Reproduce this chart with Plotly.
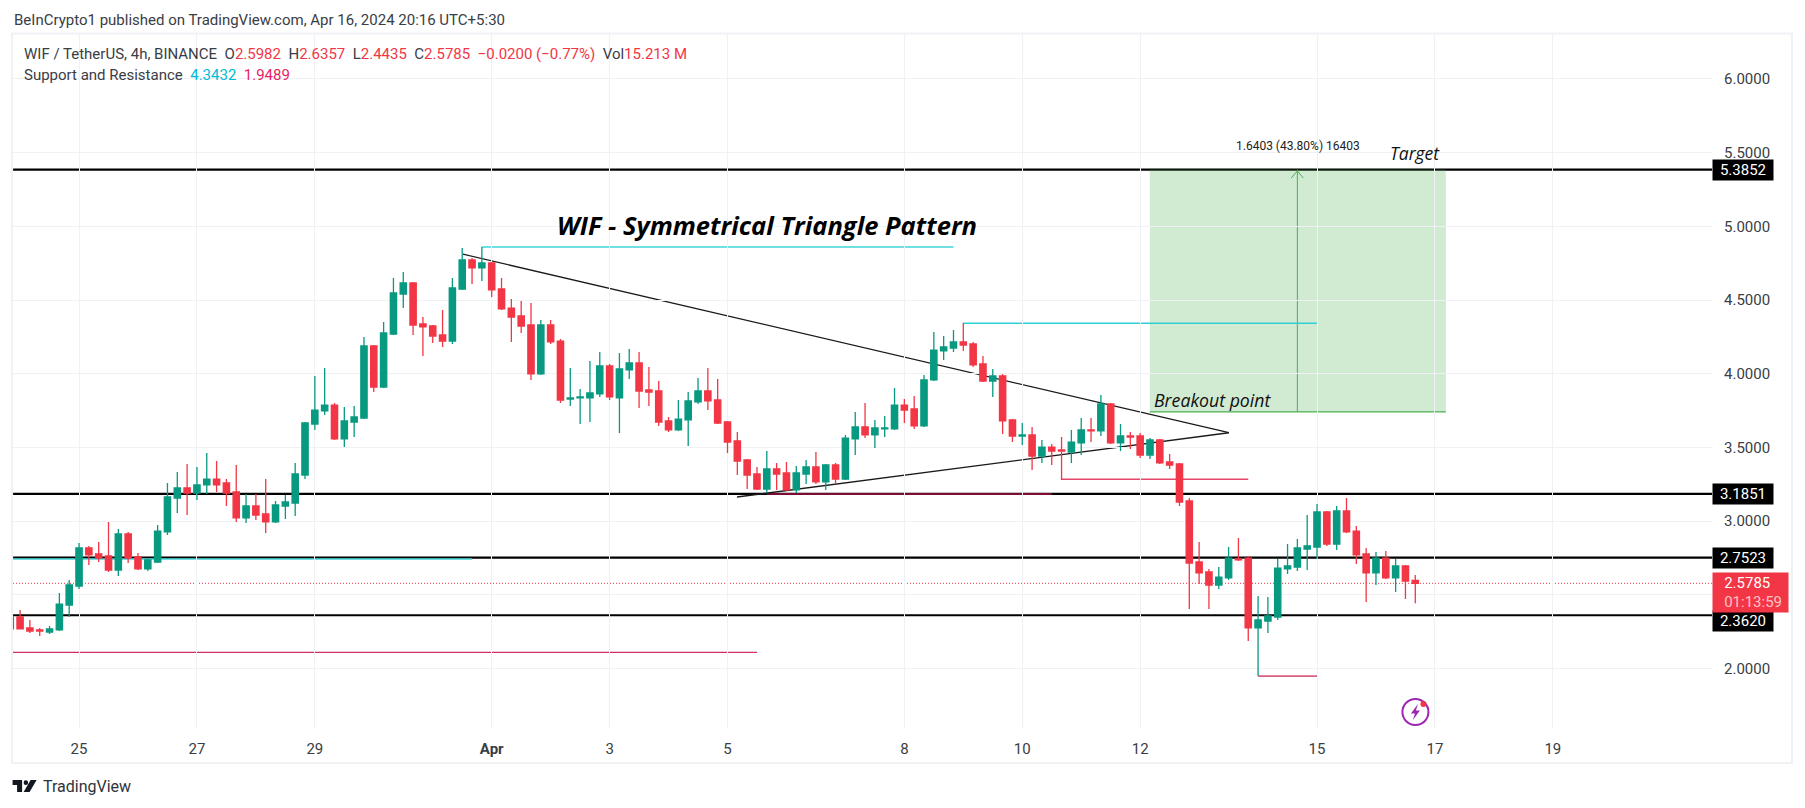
import pandas as pd
import plotly.graph_objects as go

# ---------- data ----------
start_time = "2024-03-23 20:00"
opens = [2.269,2.350,2.276,2.262,2.248,2.262,2.431,2.560,2.818,2.778,2.764,2.669,2.913,2.757,2.676,2.723,2.927,3.157,3.225,3.191,3.246,3.286,3.259,3.198,3.022,3.103,3.049,2.995,3.103,3.123,3.313,3.659,3.748,3.788,3.558,3.673,3.700,4.189,3.910,4.270,4.541,4.616,4.338,4.324,4.263,4.222,4.575,4.772,4.718,4.752,4.575,4.446,4.392,4.331,3.999,4.331,4.222,3.829,3.836,3.836,3.863,4.053,3.836,4.026,4.073,3.890,3.883,3.680,3.619,3.687,3.809,3.883,3.822,3.673,3.544,3.415,3.320,3.218,3.354,3.327,3.212,3.320,3.368,3.266,3.381,3.286,3.558,3.639,3.585,3.626,3.626,3.788,3.761,3.646,3.958,4.155,4.175,4.216,4.202,4.067,3.951,3.985,3.687,3.578,3.585,3.442,3.503,3.483,3.469,3.531,3.619,3.612,3.795,3.531,3.578,3.578,3.449,3.551,3.402,3.388,3.137,2.723,2.656,2.567,2.615,2.744,2.750,2.276,2.323,2.350,2.676,2.689,2.811,2.825,3.063,2.845,3.069,2.933,2.778,2.649,2.750,2.615,2.696,2.5982]
highs = [2.357,2.398,2.330,2.276,2.289,2.513,2.601,2.852,2.832,2.859,2.995,2.947,2.927,2.784,2.744,2.974,3.259,3.334,3.388,3.368,3.463,3.408,3.286,3.381,3.184,3.184,3.286,3.137,3.178,3.395,3.673,3.985,4.039,3.802,3.775,3.781,4.250,4.195,4.351,4.650,4.691,4.623,4.385,4.331,4.433,4.650,4.853,4.786,4.860,4.758,4.650,4.507,4.494,4.480,4.365,4.365,4.236,4.039,3.897,4.087,4.148,4.067,4.141,4.168,4.148,4.046,3.951,3.707,3.822,3.876,3.971,4.039,3.965,3.680,3.605,3.422,3.368,3.476,3.395,3.402,3.375,3.415,3.469,3.388,3.395,3.585,3.741,3.802,3.687,3.714,3.904,3.829,3.849,3.992,4.284,4.256,4.297,4.345,4.216,4.121,4.033,3.999,3.693,3.666,3.639,3.551,3.524,3.571,3.619,3.700,3.700,3.856,3.802,3.659,3.605,3.598,3.564,3.558,3.456,3.395,3.157,2.859,2.676,2.689,2.825,2.886,2.764,2.492,2.485,2.744,2.845,2.879,3.042,3.117,3.069,3.103,3.157,2.967,2.818,2.791,2.798,2.744,2.703,2.6357]
lows = [2.269,2.269,2.242,2.221,2.235,2.255,2.350,2.540,2.703,2.723,2.656,2.628,2.716,2.669,2.662,2.716,2.906,3.056,3.042,3.144,3.184,3.198,3.103,2.995,2.988,3.008,2.920,2.988,3.015,3.035,3.286,3.619,3.721,3.551,3.503,3.571,3.693,3.876,3.904,4.263,4.446,4.263,4.121,4.209,4.182,4.202,4.569,4.609,4.630,4.521,4.433,4.216,4.277,3.958,3.992,4.202,3.802,3.781,3.659,3.673,3.843,3.822,3.598,3.965,3.768,3.781,3.646,3.605,3.612,3.510,3.795,3.754,3.659,3.463,3.313,3.218,3.212,3.191,3.212,3.205,3.191,3.252,3.252,3.212,3.252,3.280,3.449,3.564,3.497,3.571,3.619,3.666,3.626,3.639,3.951,4.094,4.148,4.155,4.046,3.944,3.843,3.592,3.537,3.517,3.347,3.395,3.381,3.280,3.395,3.449,3.537,3.578,3.524,3.476,3.490,3.429,3.422,3.388,3.354,3.103,2.404,2.574,2.404,2.540,2.601,2.730,2.187,1.949,2.242,2.330,2.642,2.662,2.669,2.744,2.832,2.805,2.920,2.709,2.452,2.567,2.608,2.520,2.472,2.4435]
closes = [2.350,2.269,2.255,2.255,2.269,2.438,2.567,2.818,2.771,2.750,2.669,2.913,2.750,2.676,2.737,2.933,3.164,3.225,3.191,3.246,3.286,3.246,3.191,3.022,3.103,3.042,2.995,3.110,3.130,3.320,3.666,3.754,3.788,3.558,3.680,3.707,4.189,3.910,4.277,4.548,4.616,4.331,4.318,4.256,4.222,4.582,4.772,4.718,4.752,4.569,4.440,4.385,4.324,3.999,4.331,4.216,3.822,3.836,3.843,3.870,4.053,3.843,4.033,4.073,3.883,3.876,3.673,3.619,3.693,3.816,3.883,3.816,3.666,3.537,3.408,3.313,3.218,3.354,3.320,3.212,3.327,3.368,3.266,3.381,3.286,3.564,3.639,3.585,3.632,3.632,3.788,3.754,3.646,3.958,4.161,4.182,4.216,4.195,4.060,3.951,3.985,3.680,3.578,3.585,3.442,3.503,3.476,3.476,3.537,3.619,3.612,3.795,3.531,3.578,3.571,3.449,3.551,3.395,3.381,3.130,2.716,2.649,2.567,2.621,2.750,2.737,2.276,2.330,2.357,2.682,2.696,2.818,2.832,3.063,2.845,3.069,2.927,2.771,2.649,2.750,2.615,2.696,2.594,2.5785]

x_tick_dates = ["2024-03-25","2024-03-27","2024-03-29","2024-04-01","2024-04-03","2024-04-05","2024-04-08","2024-04-10","2024-04-12","2024-04-15","2024-04-17","2024-04-19"]
x_tick_text = ["25","27","29","<b>Apr</b>","3","5","8","10","12","15","17","19"]
y_ticks = [2.0,2.5,3.0,3.5,4.0,4.5,5.0,5.5,6.0]
y_tick_text = ["2.0000","","3.0000","3.5000","4.0000","4.5000","5.0000","5.5000","6.0000"]

levels = [5.3852,3.1851,2.7523,2.3620]
level_shift = [0,0,0,-6]
last_close = 2.5785
x_range = ["2024-03-23 21:07","2024-04-21 16:48"]
y_range = [1.597,6.305]

# drawings: (start time, end time, price start, price end, colour, width)
drawings = [
    ("2024-03-31 20:00","2024-04-08 20:00",4.860,4.860,"#3fd4d8",1.6),
    ("2024-04-09 00:00","2024-04-15 00:00",4.3432,4.3432,"#2fd0d4",1.6),
    ("2024-03-23 21:07","2024-03-31 16:00",2.743,2.743,"#3fd4d8",1.6),
    ("2024-03-23 21:07","2024-04-05 12:00",2.110,2.110,"#d0305f",1.4),
    ("2024-04-05 16:00","2024-04-10 12:00",3.1851,3.1851,"#7b0c33",2),
    ("2024-04-10 16:00","2024-04-13 20:00",3.284,3.284,"#e8476b",1.6),
    ("2024-04-14 00:00","2024-04-15 00:00",1.9489,1.9489,"#d8607f",1.8),
    ("2024-03-31 12:19","2024-04-13 12:07",4.811,3.600,"#1a1a1a",1.3),
    ("2024-04-05 03:53","2024-04-13 12:07",3.164,3.600,"#1a1a1a",1.3),
]
target_time = ["2024-04-12 03:56","2024-04-17 04:28"]
target_price = [3.741,5.3852]
arrow_time = "2024-04-14 16:00"

# ---------- pixel geometry of the page ----------
W, H = 1805, 808
L, R, T, B = 13.4, 1712, 34, 728
def px(x): return (x - L) / (R - L)
def py(y): return 1 - (y - T) / (B - T)

FONT = "Roboto"
TXT = "#3a3d45"
RED = "#F23645"
GREEN = "#089981"

shapes = []
# green target zone
shapes.append(dict(type="rect", xref="x", yref="y", layer="below",
                   x0=target_time[0], x1=target_time[1], y0=target_price[0], y1=target_price[1],
                   fillcolor="rgba(76,175,80,0.26)", line=dict(width=0)))
shapes.append(dict(type="line", xref="x", yref="y", layer="below",
                   x0=target_time[0], x1=target_time[1], y0=target_price[0], y1=target_price[0],
                   line=dict(color="#4caf50", width=1.2)))
shapes.append(dict(type="line", xref="x", yref="y", layer="below",
                   x0=arrow_time, x1=arrow_time, y0=target_price[0], y1=target_price[1],
                   line=dict(color="#4caf50", width=1)))
# level lines
for v in levels:
    shapes.append(dict(type="line", xref="paper", yref="y", layer="below", x0=0, x1=1, y0=v, y1=v,
                       line=dict(color="#000000", width=2.2)))
# last price dotted line
shapes.append(dict(type="line", xref="paper", yref="y", layer="below", x0=0, x1=1, y0=last_close, y1=last_close,
                   line=dict(color=RED, width=1, dash="1px,2px")))
for x0, x1, y0, y1, c, w in drawings:
    shapes.append(dict(type="line", xref="x", yref="y", layer="below", x0=x0, x1=x1, y0=y0, y1=y1,
                       line=dict(color=c, width=w)))

# panel frame
shapes.append(dict(type="rect", xref="paper", yref="paper", layer="below",
                   x0=px(12.5), x1=px(1792), y0=py(763), y1=py(33.5),
                   line=dict(color="#f0f1f5", width=2), fillcolor="rgba(0,0,0,0)"))

def poly(points, close=True):
    return "M" + " L".join(f"{px(a):.5f},{py(b):.5f}" for a, b in points) + (" Z" if close else "")

# arrow head of the price range (open chevron)
shapes.append(dict(type="path", xref="paper", yref="paper",
                   path=poly([(1291.4,178),(1297.4,171),(1303.4,178)], close=False),
                   fillcolor="rgba(0,0,0,0)", line=dict(color="#4caf50", width=1)))
# TradingView logo
shapes.append(dict(type="path", xref="paper", yref="paper", path=poly([(13,780),(22.5,780),(22.5,792),(17.5,792),(17.5,785),(13,785)]),
                   fillcolor="#131722", line=dict(width=0)))
shapes.append(dict(type="circle", xref="paper", yref="paper", x0=px(24), x1=px(28.5), y0=py(785), y1=py(780.3),
                   fillcolor="#131722", line=dict(width=0)))
shapes.append(dict(type="path", xref="paper", yref="paper", path=poly([(31,780),(37,780),(30,792),(24,792)]),
                   fillcolor="#131722", line=dict(width=0)))
# lightning icon
shapes.append(dict(type="circle", xref="paper", yref="paper", x0=px(1402.5), x1=px(1428.5), y0=py(725), y1=py(699),
                   fillcolor="rgba(0,0,0,0)", line=dict(color="#9c27b0", width=2)))
shapes.append(dict(type="path", xref="paper", yref="paper",
                   path=poly([(1418,704),(1411,713.5),(1415,713.5),(1413,720),(1420,710.5),(1416,710.5)]),
                   fillcolor="#9c27b0", line=dict(width=0)))
shapes.append(dict(type="circle", xref="paper", yref="paper", x0=px(1420.5), x1=px(1426.5), y0=py(707), y1=py(701),
                   fillcolor=RED, line=dict(width=0)))

def sp(color, text):
    return f'<span style="color:{color}">{text}</span>'

nb = "\u00a0"
legend1 = ("WIF / TetherUS, 4h, BINANCE" + nb*2 + "O" + sp(RED,"2.5982") + nb*2 + "H" + sp(RED,"2.6357") + nb*2 + "L" + sp(RED,"2.4435")
           + nb*2 + "C" + sp(RED,"2.5785") + nb*2 + sp(RED,"\u22120.0200 (\u22120.77%)") + nb*2 + "Vol" + sp(RED,"15.213" + nb + "M"))
legend2 = "Support and Resistance" + nb*2 + sp("#00BCD4","4.3432") + nb*2 + sp("#E91E63","1.9489")

def label(x, y, text, size=14, color=TXT, xanchor="left", **kw):
    return dict(xref="paper", yref="paper", x=px(x), y=py(y), text=text, showarrow=False, xanchor=xanchor, yanchor="middle",
                font=dict(family=kw.pop("family", FONT), size=size, color=color), borderpad=0, **kw)

annotations = [
    label(13, 20, "BeInCrypto1 published on TradingView.com, Apr 16, 2024 20:16 UTC+5:30", size=15),
    label(23, 54, legend1, size=15),
    label(23, 75, legend2, size=15),
    label(42, 786.5, "TradingView", size=16, color="#30333b"),
    label(556, 224.5, "<b><i>WIF - Symmetrical Triangle Pattern</i></b>", size=25.5, color="#000000", family="Open Sans"),
    label(1153, 400, "<i>Breakout point</i>", size=17.7, color="#101010", family="Open Sans"),
    label(1389, 153, "<i>Target</i>", size=17.5, color="#101010", family="Open Sans"),
    label(1298, 145.7, "1.6403 (43.80%) 16403", size=12, color="#222222", xanchor="center"),
]
# price tags, anchored to their prices
for v, shift in zip(levels, level_shift):
    annotations.append(dict(xref="paper", yref="y", x=1, y=v, yshift=shift, text=f"{v:.4f}", showarrow=False,
                            xanchor="left", yanchor="middle", align="center", width=60, height=20, bgcolor="#000000",
                            borderpad=0, font=dict(family=FONT, size=15, color="#ffffff")))
annotations.append(dict(xref="paper", yref="y", x=1, y=last_close, yshift=-9,
                        text=f'{nb*3}{last_close:.4f}<br>{nb*3}<span style="color:#ffc2c8">01:13:59</span>',
                        showarrow=False, xanchor="left", yanchor="middle", align="left", width=75, height=39,
                        bgcolor=RED, borderpad=0, font=dict(family=FONT, size=15, color="#ffffff")))

fig = go.Figure(go.Candlestick(
    x=pd.date_range(start_time, periods=len(opens), freq="4h"),
    open=opens, high=highs, low=lows, close=closes,
    increasing=dict(line=dict(color=GREEN, width=1.3), fillcolor=GREEN),
    decreasing=dict(line=dict(color=RED, width=1.3), fillcolor=RED),
    whiskerwidth=0, showlegend=False, hoverinfo="skip",
))

fig.update_layout(
    width=W, height=H, autosize=False,
    margin=dict(l=L, r=W - R, t=T, b=H - B, pad=0),
    paper_bgcolor="#ffffff", plot_bgcolor="#ffffff",
    boxgap=0.18, boxgroupgap=0.22,
    shapes=shapes, annotations=annotations, showlegend=False,
    font=dict(family=FONT, size=15, color=TXT),
    xaxis=dict(type="date", range=x_range, tickmode="array", tickvals=x_tick_dates, ticktext=x_tick_text,
               showgrid=True, gridcolor="#f0f1f5", gridwidth=1, zeroline=False, showline=False,
               ticks="outside", ticklen=7, tickcolor="rgba(0,0,0,0)", tickfont=dict(family=FONT, size=15, color=TXT),
               rangeslider=dict(visible=False), fixedrange=True),
    yaxis=dict(side="right", range=y_range, tickmode="array", tickvals=y_ticks, ticktext=y_tick_text,
               showgrid=True, gridcolor="#f0f1f5", gridwidth=1, zeroline=False, showline=False,
               ticks="outside", ticklen=8, tickcolor="rgba(0,0,0,0)", tickfont=dict(family=FONT, size=15, color=TXT),
               fixedrange=True),
)

fig.write_html("out.html", config=dict(displayModeBar=False),
               post_script="document.body.style.margin='0';document.body.style.overflow='hidden';")
